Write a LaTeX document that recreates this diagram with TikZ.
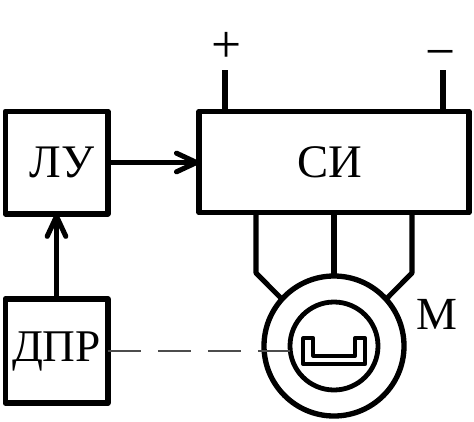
\documentclass[tikz,border=0pt]{standalone}
\usepackage{fontspec}
\setmainfont{Liberation Serif}
\usetikzlibrary{arrows.meta}
\tikzset{
  blockbox/.style={draw=black,line width=4pt,line join=round,inner sep=0pt,outer sep=0pt,font=\fontsize{35}{35}\selectfont},
  wire/.style={draw=black,line width=3.8pt,line join=round},
  arrowwire/.style={wire,-{Straight Barb[length=15pt,width=14pt,round,line width=3.8pt]}},
  machine/.style={circle,draw=black,inner sep=0pt,outer sep=0pt},
  sign/.style={font=\fontsize{40}{40}\selectfont,inner sep=0pt},
  sensorline/.style={draw=black!70,line width=1.2pt,dash pattern=on 24.5pt off 13pt}
}
\begin{document}
\begin{tikzpicture}[x=0.75pt,y=-0.75pt]
\useasboundingbox (0,0) rectangle (474,421);
\node[blockbox,minimum width=77pt,minimum height=77pt] (lu) at (56.5,162.5) {\hspace{8pt}\raisebox{-0.75pt}{ЛУ}};
\node[blockbox,minimum width=202.5pt,minimum height=76pt] (si) at (334,162) {\hspace{-6pt}СИ};
\node[blockbox,minimum width=77pt,minimum height=78pt,font=\fontsize{34}{34}\selectfont] (dpr) at (56.5,351) {\raisebox{-2.2pt}{ДПР}};
\node[machine,line width=4pt,minimum size=105pt] (outer) at (334,346) {};
\node[machine,line width=3.6pt,minimum size=66pt] (inner) at (334,346) {};
\node[sign] (plus) at (226.7,47) {+};
\node[sign] (minus) at (440.7,60) {−};
\node[anchor=base,inner sep=0pt,font=\fontsize{34.5}{34.5}\selectfont] (m) at (437,329) {М};
\coordinate (pt) at (225,70);
\coordinate (mt) at (443,70);
\coordinate (wl) at (256,273);
\coordinate (wr) at (412,273);
\draw[wire] (pt) -- (si.north -| pt);
\draw[wire] (mt) -- (si.north -| mt);
\draw[wire] (si.south -| wl) -- (wl) -- (outer.138);
\draw[wire] (si.south) -- (outer.north);
\draw[wire] (si.south -| wr) -- (wr) -- (outer.42);
\draw[arrowwire] (lu.east) -- (si.west |- lu.east);
\draw[arrowwire] (dpr.north) -- (lu.south);
\draw[sensorline] (dpr.east) -- (inner.west |- dpr.east);
\draw[line width=3.2pt,line join=round] (303.3,338.3) -- (313.3,338.3) -- (313.3,355.7) -- (355,355.7) -- (355,338.3) -- (365,338.3) -- (365,364) -- (303.3,364) -- cycle;
\end{tikzpicture}
\end{document}
